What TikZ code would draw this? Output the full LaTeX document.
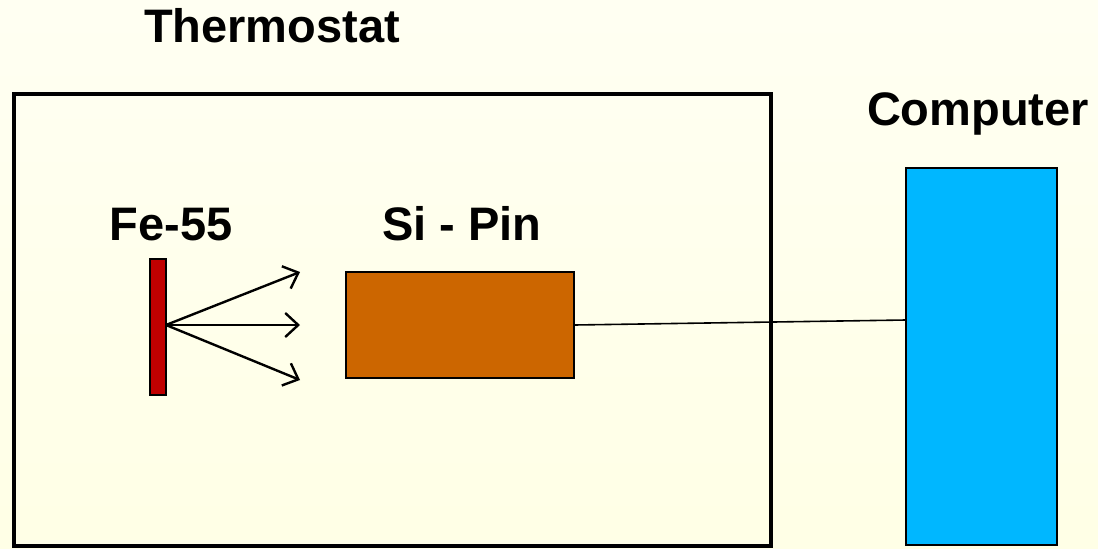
\documentclass[tikz,border=0pt]{standalone}
\usepackage{fontspec}
\setmainfont{Liberation Sans}
\usetikzlibrary{arrows.meta}
\begin{document}
\begin{tikzpicture}[x=1pt,y=-1pt,
  lbl/.style={font=\fontsize{47}{50}\selectfont\bfseries, inner sep=0pt, anchor=base},
  frame/.style={draw=black, line width=4pt},
  part/.style={draw=black, line width=1.2pt},
  ray/.style={draw=black, line width=2.4pt, -{Straight Barb[length=13pt,width=24pt,line width=2.4pt]}}
]
\useasboundingbox (0,0) rectangle (1098,549);
\shade[top color=white!95!yellow, bottom color=yellow!10] (0,0) rectangle (1098,549);
% thermostat box
\node[frame, minimum width=757pt, minimum height=452pt, inner sep=0pt] (thermo) at (392.5,320) {};
\node[lbl] (thlabel) at (272,42) {Thermostat};
% computer
\node[part, fill={rgb,255:red,0;green,183;blue,255}, minimum width=151pt, minimum height=377pt, inner sep=0pt] (comp) at (981.5,356.5) {};
\node[lbl] (complabel) at (978,125) {Computer};
% Si-Pin
\node[part, fill={rgb,255:red,204;green,102;blue,0}, minimum width=228pt, minimum height=106pt, inner sep=0pt] (sipin) at (460,325) {};
\node[lbl] (silabel) at (462,240) {Si - Pin};
% Fe-55
\node[part, fill={rgb,255:red,192;green,0;blue,0}, minimum width=16pt, minimum height=136pt, inner sep=0pt] (fe) at (158,327) {};
\node[lbl] (felabel) at (171,240) {Fe-55};
% rays
\coordinate (src) at (166,325);
\coordinate (r1) at (300,272);
\coordinate (r2) at (300,325);
\coordinate (r3) at (300,380);
\draw[ray] (src) -- (r1);
\draw[ray] (src) -- (r2);
\draw[ray] (src) -- (r3);
% cable
\coordinate (cableend) at (906,320);
\draw[black, line width=1.6pt] (sipin.east) -- (cableend);
\end{tikzpicture}
\end{document}
